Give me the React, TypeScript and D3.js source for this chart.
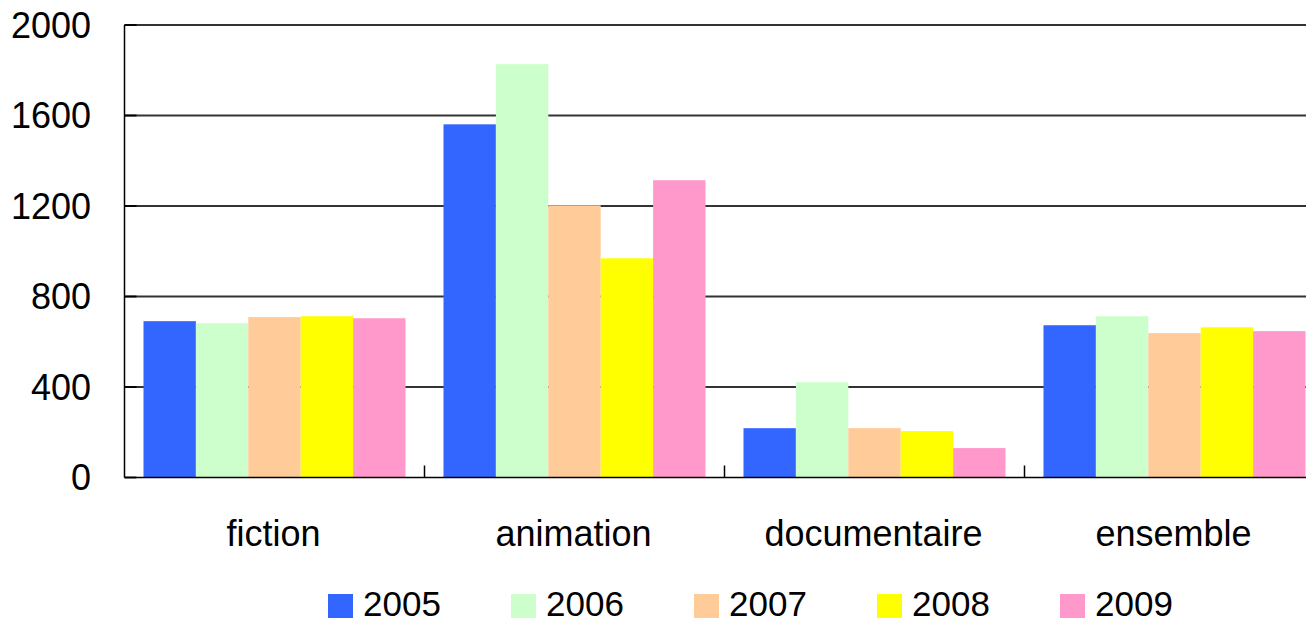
import { useEffect, useRef } from 'react';
import * as d3 from 'd3';

const categories = ['fiction', 'animation', 'documentaire', 'ensemble'];
const years = ['2005', '2006', '2007', '2008', '2009'];
const colors = ['#3366FF', '#CCFFCC', '#FFCC99', '#FFFF00', '#FF99CC'];
const values2005 = [691, 1561, 218, 673];
const values2006 = [682, 1827, 421, 713];
const values2007 = [709, 1203, 218, 638];
const values2008 = [713, 969, 205, 664];
const values2009 = [704, 1314, 130, 647];
const yTicks = [0, 400, 800, 1200, 1600, 2000];

const series = [values2005, values2006, values2007, values2008, values2009];

export default function App() {
  const svgRef = useRef<SVGSVGElement>(null);

  useEffect(() => {
    if (!svgRef.current) return;
    const svg = d3.select(svgRef.current);
    svg.selectAll('*').remove();

    const left = 124.5;
    const step = 300;
    const font = 'Liberation Sans, Arial, sans-serif';

    const y = d3.scaleLinear().domain([0, 2000]).range([477.5, 25]);
    const x0 = d3.scaleBand<string>()
      .domain(categories)
      .range([left, left + step * categories.length])
      .padding(0);
    const x1 = d3.scaleBand<string>()
      .domain(years)
      .range([19, 281])
      .padding(0);

    // grid lines
    svg.append('g')
      .selectAll('line')
      .data(yTicks.filter(t => t > 0))
      .join('line')
      .attr('x1', left)
      .attr('x2', 1306)
      .attr('y1', d => y(d))
      .attr('y2', d => y(d))
      .attr('stroke', '#333')
      .attr('stroke-width', 1.8);

    // bars
    categories.forEach((cat, ci) => {
      const g = svg.append('g').attr('transform', `translate(${x0(cat)},0)`);
      g.selectAll('rect')
        .data(years.map((yr, si) => ({ yr, v: series[si][ci], c: colors[si] })))
        .join('rect')
        .attr('x', d => x1(d.yr) as number)
        .attr('width', x1.bandwidth())
        .attr('y', d => y(d.v))
        .attr('height', d => y(0) - y(d.v))
        .attr('fill', d => d.c);
    });

    // y axis line + inward ticks
    svg.append('line')
      .attr('x1', left).attr('x2', left)
      .attr('y1', y(2000)).attr('y2', y(0))
      .attr('stroke', '#000').attr('stroke-width', 1.5);
    svg.append('g')
      .selectAll('line')
      .data(yTicks)
      .join('line')
      .attr('x1', left).attr('x2', left + 12)
      .attr('y1', d => y(d)).attr('y2', d => y(d))
      .attr('stroke', '#000').attr('stroke-width', 1.8);

    svg.append('g')
      .selectAll('text')
      .data(yTicks)
      .join('text')
      .attr('x', 91)
      .attr('y', d => y(d) + 12.5)
      .attr('text-anchor', 'end')
      .attr('font-family', font)
      .attr('font-size', 36)
      .attr('fill', '#000')
      .text(d => d);

    // x axis line + ticks between categories
    svg.append('line')
      .attr('x1', left).attr('x2', 1306)
      .attr('y1', y(0)).attr('y2', y(0))
      .attr('stroke', '#000').attr('stroke-width', 1.6);
    svg.append('g')
      .selectAll('line')
      .data(categories.slice(1))
      .join('line')
      .attr('x1', d => x0(d) as number)
      .attr('x2', d => x0(d) as number)
      .attr('y1', y(0) - 12)
      .attr('y2', y(0))
      .attr('stroke', '#000').attr('stroke-width', 1.5);

    svg.append('g')
      .selectAll('text')
      .data(categories)
      .join('text')
      .attr('x', d => (x0(d) as number) + step / 2 - 1)
      .attr('y', 546)
      .attr('text-anchor', 'middle')
      .attr('font-family', font)
      .attr('font-size', 36)
      .attr('fill', '#000')
      .text(d => d);

    // legend
    const legend = svg.append('g');
    years.forEach((yr, i) => {
      const lx = 328 + i * 183;
      legend.append('rect')
        .attr('x', lx).attr('y', 594)
        .attr('width', 25).attr('height', 24)
        .attr('fill', colors[i]);
      legend.append('text')
        .attr('x', lx + 35)
        .attr('y', 616)
        .attr('font-family', font)
        .attr('font-size', 35)
        .attr('fill', '#000')
        .text(yr);
    });
  }, []);

  return (
    <svg
      ref={svgRef}
      width={1306}
      height={619}
      style={{ position: 'absolute', left: 0, top: 0, background: '#fff' }}
    />
  );
}
